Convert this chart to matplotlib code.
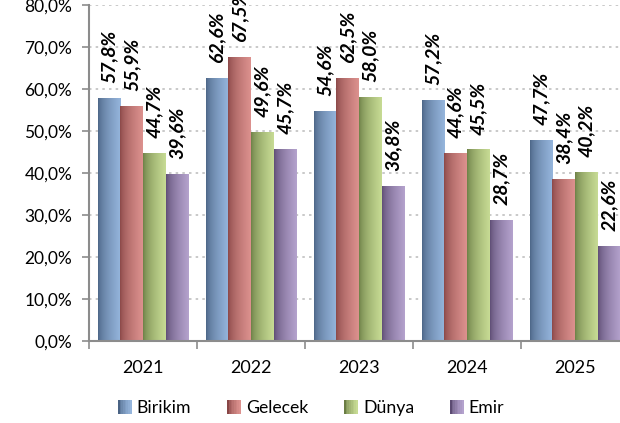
import matplotlib.pyplot as plt
import numpy as np
from matplotlib.colors import LinearSegmentedColormap
from matplotlib.patches import Rectangle
from matplotlib.legend_handler import HandlerBase

plt.rcParams['font.family'] = ['Lato', 'DejaVu Sans']

years = ['2021', '2022', '2023', '2024', '2025']
series = ['Birikim', 'Gelecek', 'Dünya', 'Emir']
birikim = [57.8, 62.6, 54.6, 57.2, 47.7]
gelecek = [55.9, 67.5, 62.5, 44.6, 38.4]
dunya = [44.7, 49.6, 58.0, 45.5, 40.2]
emir = [39.6, 45.7, 36.8, 28.7, 22.6]
values = [birikim, gelecek, dunya, emir]

# dark edge -> light edge of each bar
grads = [('#4a6384', '#95b5dc'),
         ('#884646', '#dc918e'),
         ('#6a7d44', '#c7db94'),
         ('#5c4b72', '#b4a2cd')]

fig = plt.figure(figsize=(6.2, 4.23), dpi=100)
ax = fig.add_axes([89/620, 1 - 341/423, 540/620, 336/423])

x = np.arange(len(years))
w = 0.21
for i, (name, vals) in enumerate(zip(series, values)):
    cmap = LinearSegmentedColormap.from_list(name, [grads[i][0], grads[i][1]])
    bars = ax.bar(x + (i - 1.5) * w, vals, w, color='none', zorder=2)
    for b, v in zip(bars, vals):
        x0, x1 = b.get_x(), b.get_x() + b.get_width()
        grad = np.linspace(0, 1, 64) ** 0.6
        ax.imshow(grad[None, :], cmap=cmap, extent=[x0, x1, 0, v],
                  aspect='auto', zorder=2, interpolation='bicubic')
        ax.annotate(f'{v:.1f}%'.replace('.', ','), (b.get_x() + b.get_width() / 2, v),
                    xytext=(0, 11), textcoords='offset points', rotation=90,
                    ha='center', va='bottom', fontsize=14, fontweight='bold',
                    fontstyle='italic', color='black', annotation_clip=False)

ax.set_xlim(-0.5, 4.5)
ax.set_ylim(0, 80)
ax.set_yticks(np.arange(0, 81, 10))
ax.set_yticklabels([f'{t:.1f}%'.replace('.', ',') for t in np.arange(0, 81, 10)], fontsize=12.5)
ax.set_xticks(x)
ax.set_xticklabels(years, fontsize=13)
ax.set_xticks(np.arange(-0.5, 5, 1), minor=True)
ax.tick_params(axis='x', which='major', length=0, pad=14)
ax.tick_params(axis='x', which='minor', length=6, color='#8c8c8c', width=1.2)
ax.tick_params(axis='y', length=5, color='#8c8c8c', width=1.2, pad=7)
ax.grid(axis='y', linestyle=(0, (1.5, 2.5)), color='#c0c0c0', linewidth=1.2, zorder=0)
ax.set_axisbelow(True)
for s in ['top', 'right']:
    ax.spines[s].set_visible(False)
for s in ['left', 'bottom']:
    ax.spines[s].set_color('#8c8c8c')
    ax.spines[s].set_linewidth(1.5)


class GradHandler(HandlerBase):
    def __init__(self, c0, c1):
        super().__init__()
        self.c0, self.c1 = c0, c1

    def create_artists(self, legend, orig, xd, yd, width, height, fontsize, trans):
        cmap = LinearSegmentedColormap.from_list('g', [self.c0, self.c1])
        n = 8
        sz = height * 1.1
        x0 = xd + width - sz
        out = []
        for k in range(n):
            out.append(Rectangle((x0 + k * sz / n, yd - 0.05 * height), sz / n + 0.3, sz,
                                 facecolor=cmap((k / (n - 1)) ** 0.6), edgecolor='none',
                                 transform=trans))
        return out


handles = [Rectangle((0, 0), 1, 1) for _ in series]
hmap = {h: GradHandler(*grads[i]) for i, h in enumerate(handles)}
fig.legend(handles, series, handler_map=hmap, loc='center', bbox_to_anchor=(0.5, 1 - 408/423),
           ncol=4, frameon=False, fontsize=12.7, handlelength=0.9, handletextpad=0.3,
           columnspacing=1.9)

fig.savefig('out.png', dpi=100)
